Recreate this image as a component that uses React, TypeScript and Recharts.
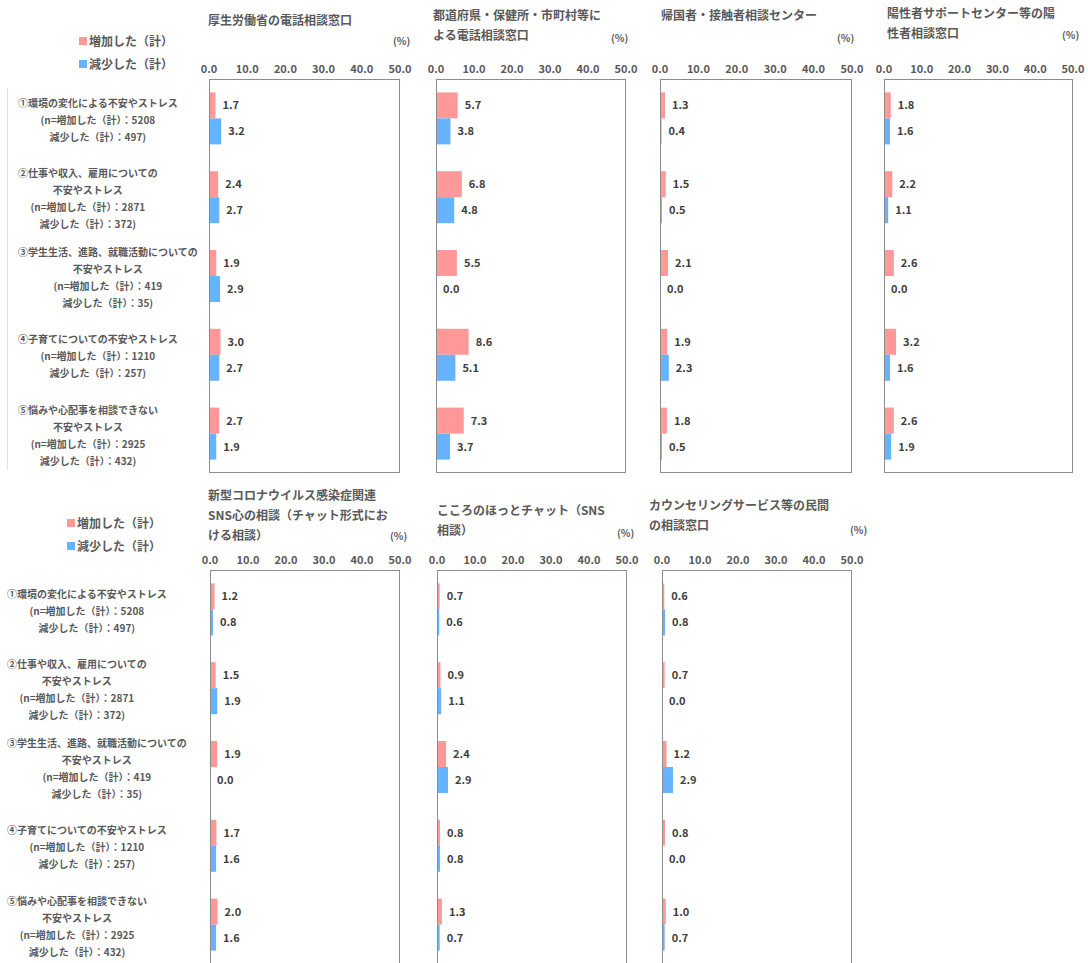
import React from 'react';
import { BarChart, Bar, XAxis, YAxis, LabelList } from 'recharts';

// categories (shared by every panel)
const CATEGORY_KEYS = ['c1', 'c2', 'c3', 'c4', 'c5'];
const CATEGORY_LINES = [
  ['①環境の変化による不安やストレス', '(n=増加した（計）：5208', '減少した（計）：497)'],
  ['②仕事や収入、雇用についての', '不安やストレス', '(n=増加した（計）：2871', '減少した（計）：372)'],
  ['③学生生活、進路、就職活動についての', '不安やストレス', '(n=増加した（計）：419', '減少した（計）：35)'],
  ['④子育てについての不安やストレス', '(n=増加した（計）：1210', '減少した（計）：257)'],
  ['⑤悩みや心配事を相談できない', '不安やストレス', '(n=増加した（計）：2925', '減少した（計）：432)'],
];

const SERIES_NAMES = ['増加した（計）', '減少した（計）'];
const X_TICKS = [0, 10, 20, 30, 40, 50];

const PANEL_TITLES = [
  ['厚生労働省の電話相談窓口'],
  ['都道府県・保健所・市町村等に', 'よる電話相談窓口'],
  ['帰国者・接触者相談センター'],
  ['陽性者サポートセンター等の陽', '性者相談窓口'],
  ['新型コロナウイルス感染症関連', 'SNS心の相談（チャット形式にお', 'ける相談）'],
  ['こころのほっとチャット（SNS', '相談）'],
  ['カウンセリングサービス等の民間', 'の相談窓口'],
];

// 増加した（計）
const INCREASED = [
  [1.7, 2.4, 1.9, 3.0, 2.7],
  [5.7, 6.8, 5.5, 8.6, 7.3],
  [1.3, 1.5, 2.1, 1.9, 1.8],
  [1.8, 2.2, 2.6, 3.2, 2.6],
  [1.2, 1.5, 1.9, 1.7, 2.0],
  [0.7, 0.9, 2.4, 0.8, 1.3],
  [0.6, 0.7, 1.2, 0.8, 1.0],
];

// 減少した（計）
const DECREASED = [
  [3.2, 2.7, 2.9, 2.7, 1.9],
  [3.8, 4.8, 0.0, 5.1, 3.7],
  [0.4, 0.5, 0.0, 2.3, 0.5],
  [1.6, 1.1, 0.0, 1.6, 1.9],
  [0.8, 1.9, 0.0, 1.6, 1.6],
  [0.6, 1.1, 2.9, 0.8, 0.7],
  [0.8, 0.0, 2.9, 0.0, 0.7],
];

const PINK = '#FF9999';
const BLUE = '#66B3FF';
const TEXT = '#595959';
const FONT = '"Noto Sans CJK JP", "Noto Sans", sans-serif';

// layout of each panel: plot box, title top-left, (%) position
const LAYOUT = [
  { x: 209, y: 79, w: 191, h: 394, tx: 208, ty: 10, px: 393, py: 35 },
  { x: 436, y: 79, w: 190, h: 394, tx: 433, ty: 5, px: 611, py: 32 },
  { x: 660, y: 79, w: 192, h: 394, tx: 661, ty: 5, px: 837, py: 32 },
  { x: 884, y: 79, w: 189, h: 394, tx: 887, ty: 3, px: 1062, py: 29 },
  { x: 210, y: 570, w: 190, h: 394, tx: 208, ty: 485, px: 390, py: 530 },
  { x: 437, y: 570, w: 190, h: 394, tx: 437, ty: 500, px: 617, py: 527 },
  { x: 662, y: 570, w: 190, h: 394, tx: 649, ty: 495, px: 850, py: 524 },
];

const M = 16;
const AXIS_H = 20;
const LABEL_STYLE = { fill: '#404040', fontSize: 11, fontWeight: 700, fontFamily: FONT };

const Panel: React.FC<{ idx: number }> = ({ idx }) => {
  const L = LAYOUT[idx];
  const data = CATEGORY_KEYS.map((c, i) => ({
    cat: c,
    inc: INCREASED[idx][i],
    dec: DECREASED[idx][i],
  }));

  return (
    <>
      <div
        style={{
          position: 'absolute',
          left: L.tx,
          top: L.ty,
          fontSize: 12,
          lineHeight: '20px',
          fontWeight: 700,
          color: TEXT,
          whiteSpace: 'nowrap',
        }}
      >
        {PANEL_TITLES[idx].map((t) => (
          <div key={t}>{t}</div>
        ))}
      </div>
      <div
        style={{
          position: 'absolute',
          left: L.px,
          top: L.py,
          fontSize: 10,
          lineHeight: '12px',
          fontWeight: 700,
          color: TEXT,
        }}
      >
        (%)
      </div>
      <div style={{ position: 'absolute', left: L.x - M, top: L.y - AXIS_H }}>
        <BarChart
          width={L.w + 2 * M}
          height={L.h + AXIS_H}
          data={data}
          layout="vertical"
          margin={{ top: 0, right: M, bottom: 0, left: M }}
          barCategoryGap="17%"
          barGap={0}
        >
          <XAxis
            type="number"
            orientation="top"
            domain={[0, 50]}
            ticks={X_TICKS}
            height={AXIS_H}
            axisLine={false}
            tickLine={false}
            tickSize={0}
            tickMargin={6}
            tickFormatter={(v: number) => v.toFixed(1)}
            tick={{ fill: TEXT, fontSize: 11, fontWeight: 700, fontFamily: FONT }}
            interval={0}
          />
          <YAxis type="category" dataKey="cat" hide />
          <Bar dataKey="inc" fill={PINK} minPointSize={0.01} isAnimationActive={false}>
            <LabelList
              dataKey="inc"
              position="right"
              offset={7}
              formatter={(v: number) => Number(v).toFixed(1)}
              style={LABEL_STYLE}
            />
          </Bar>
          <Bar dataKey="dec" fill={BLUE} minPointSize={0.01} isAnimationActive={false}>
            <LabelList
              dataKey="dec"
              position="right"
              offset={7}
              formatter={(v: number) => Number(v).toFixed(1)}
              style={LABEL_STYLE}
            />
          </Bar>
        </BarChart>
      </div>
      <div
        style={{
          position: 'absolute',
          left: L.x,
          top: L.y,
          width: L.w,
          height: L.h,
          border: '1px solid #8c8c8c',
          boxSizing: 'border-box',
          pointerEvents: 'none',
        }}
      />
    </>
  );
};

const Legend: React.FC<{ x: number; y: number }> = ({ x, y }) => (
  <>
    {SERIES_NAMES.map((name, i) => (
      <div
        key={name}
        style={{
          position: 'absolute',
          left: x,
          top: y + i * 23,
          display: 'flex',
          alignItems: 'center',
          fontSize: 12,
          lineHeight: '16px',
          fontWeight: 700,
          color: TEXT,
          whiteSpace: 'nowrap',
        }}
      >
        <span
          style={{
            display: 'inline-block',
            width: 8,
            height: 8,
            background: i === 0 ? PINK : BLUE,
            marginRight: 2,
          }}
        />
        {name}
      </div>
    ))}
  </>
);

const CategoryLabels: React.FC<{ x: number; top: number; h: number }> = ({ x, top, h }) => (
  <>
    {CATEGORY_LINES.map((lines, i) => {
      const center = top + ((i + 0.5) * h) / CATEGORY_LINES.length + 1;
      return (
        <div
          key={i}
          style={{
            position: 'absolute',
            left: x,
            top: center - (lines.length * 17) / 2,
            fontSize: 10,
            lineHeight: '17px',
            fontWeight: 700,
            color: TEXT,
            textAlign: 'center',
            whiteSpace: 'nowrap',
          }}
        >
          {lines.map((l) => (
            <div key={l}>{l}</div>
          ))}
        </div>
      );
    })}
  </>
);

const App: React.FC = () => {
  return (
    <div
      style={{
        position: 'absolute',
        left: 0,
        top: 0,
        width: 1088,
        height: 963,
        overflow: 'hidden',
        background: '#fff',
        fontFamily: FONT,
      }}
    >
      <Legend x={79} y={33} />
      <Legend x={67} y={515} />
      <div
        style={{
          position: 'absolute',
          left: 7,
          top: 88,
          height: 382,
          borderLeft: '1px solid #e0e0e0',
        }}
      />
      <CategoryLabels x={18} top={79} h={394} />
      <CategoryLabels x={7} top={570} h={394} />
      {LAYOUT.map((_, i) => (
        <Panel key={i} idx={i} />
      ))}
    </div>
  );
};

export default App;
